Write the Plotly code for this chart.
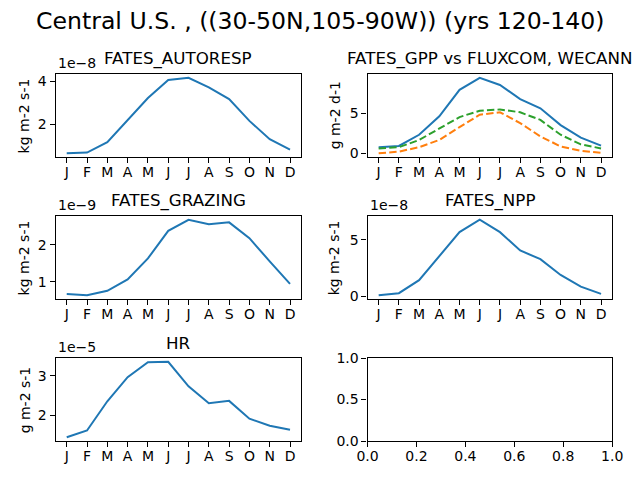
"""Seasonal cycle panels for Central U.S. FATES output."""
import plotly.graph_objects as go

months = ["J", "F", "M", "A", "M", "J", "J", "A", "S", "O", "N", "D"]
month_idx = list(range(12))

# Monthly means.
autoresp = [0.65e-8, 0.68e-8, 1.16e-8, 2.2e-8, 3.21e-8, 4.05e-8,
            4.15e-8, 3.70e-8, 3.16e-8, 2.15e-8, 1.30e-8, 0.82e-8]
gpp_fates = [0.75, 0.91, 2.3, 4.6, 7.9, 9.4, 8.5, 6.75, 5.6, 3.5, 1.95, 0.95]
gpp_fluxcom = [0.0, 0.2, 0.75, 1.65, 3.25, 4.8, 5.1, 3.75, 2.1, 0.85, 0.3, 0.05]
gpp_wecann = [0.6, 0.75, 1.65, 3.1, 4.5, 5.3, 5.45, 5.1, 4.15, 2.3, 1.1, 0.6]
grazing = [0.66e-9, 0.63e-9, 0.75e-9, 1.06e-9, 1.63e-9, 2.38e-9,
           2.68e-9, 2.56e-9, 2.61e-9, 2.18e-9, 1.55e-9, 0.94e-9]
npp = [0.12e-8, 0.3e-8, 1.45e-8, 3.6e-8, 5.68e-8, 6.77e-8,
       5.68e-8, 4.06e-8, 3.3e-8, 1.91e-8, 0.88e-8, 0.24e-8]
hr = [1.44e-5, 1.61e-5, 2.35e-5, 2.96e-5, 3.34e-5, 3.35e-5,
      2.73e-5, 2.30e-5, 2.36e-5, 1.91e-5, 1.73e-5, 1.63e-5]

W, H = 640, 480
PAD = 8  # the page ends up drawing the figure inside an 8px border
FONT = "DejaVu Sans"
BLUE, ORANGE, GREEN = "#1f77b4", "#ff7f0e", "#2ca02c"

# panel boxes in window pixels: (left, right, top, bottom)
cols = [(53, 301), (368, 615)]
rows = [(74, 157), (216, 299), (358, 441)]

# name, series list, scale, units, yticks, ylabel x-position
panels = [
    ("FATES_AUTORESP", [(autoresp, BLUE, "solid")], 1e-8, "kg m-2 s-1", [2, 4], 21),
    ("FATES_GPP vs FLUXCOM, WECANN",
     [(gpp_fates, BLUE, "solid"), (gpp_fluxcom, ORANGE, "7.4px,3.2px"),
      (gpp_wecann, GREEN, "7.4px,3.2px")],
     1, "g m-2 d-1", [0, 5], 335),
    ("FATES_GRAZING", [(grazing, BLUE, "solid")], 1e-9, "kg m-2 s-1", [1, 2], 21),
    ("FATES_NPP", [(npp, BLUE, "solid")], 1e-8, "kg m-2 s-1", [0, 5], 334),
    ("HR", [(hr, BLUE, "solid")], 1e-5, "g m-2 s-1", [2, 3], 22),
]

fig = go.Figure()
annotations = []


def px_x(p):
    return (p - PAD) / (W - 2 * PAD)


def px_y(p):
    return 1 - (p - PAD) / (H - 2 * PAD)


axis_style = dict(showline=True, linecolor="black", linewidth=1.1, mirror=True,
                  ticks="outside", ticklen=5, tickwidth=1.1, tickcolor="black",
                  showgrid=False, zeroline=False,
                  tickfont=dict(family=FONT, size=14, color="black"))

for i in range(6):
    r, c = divmod(i, 2)
    left, right = cols[c]
    top, bottom = rows[r]
    n = i + 1
    xa = "x" if n == 1 else f"x{n}"
    ya = "y" if n == 1 else f"y{n}"
    xkey = "xaxis" if n == 1 else f"xaxis{n}"
    ykey = "yaxis" if n == 1 else f"yaxis{n}"
    xdom = [px_x(left), px_x(right)]
    ydom = [px_y(bottom), px_y(top)]

    if i < len(panels):
        name, series, scale, units, yticks, ylx = panels[i]
        lo, hi = None, None
        for vals, color, dash in series:
            ys = [v / scale for v in vals]
            lo = min(ys) if lo is None else min(lo, min(ys))
            hi = max(ys) if hi is None else max(hi, max(ys))
            fig.add_trace(go.Scatter(x=month_idx, y=ys, mode="lines", xaxis=xa, yaxis=ya,
                                     line=dict(color=color, width=2, dash=dash),
                                     showlegend=False))
        pad = 0.05 * (hi - lo)
        fig.update_layout({
            xkey: dict(domain=xdom, anchor=ya, range=[-0.55, 11.55],
                       tickvals=month_idx, ticktext=months, ticklabelstandoff=-3, **axis_style),
            ykey: dict(domain=ydom, anchor=xa, range=[lo - pad, hi + pad],
                       tickvals=yticks, **axis_style),
        })
        annotations.append(dict(text=name, x=(xdom[0] + xdom[1]) / 2, y=px_y(top - 3),
                                xref="paper", yref="paper", xanchor="center", yanchor="bottom",
                                showarrow=False, font=dict(family=FONT, size=16.7, color="black")))
        if scale != 1:
            exp = f"{scale:.0e}".split("e")[1]
            annotations.append(dict(text=f"1e\u2212{int(exp[1:])}", x=xdom[0], y=px_y(top - 1),
                                    xref="paper", yref="paper", xanchor="left", yanchor="bottom",
                                    showarrow=False, font=dict(family=FONT, size=14, color="black")))
        annotations.append(dict(text=units, x=px_x(ylx), y=(ydom[0] + ydom[1]) / 2,
                                xref="paper", yref="paper", xanchor="center", yanchor="middle",
                                textangle=-90, showarrow=False,
                                font=dict(family=FONT, size=14, color="black")))
    else:
        # unused sixth panel: an empty trace so the axes get drawn
        fig.add_trace(go.Scatter(x=[], y=[], xaxis=xa, yaxis=ya, showlegend=False))
        fig.update_layout({
            xkey: dict(domain=xdom, anchor=ya, range=[0, 1], ticklabelstandoff=-3,
                       tickvals=[0, 0.2, 0.4, 0.6, 0.8, 1.0], tickformat=".1f", **axis_style),
            ykey: dict(domain=ydom, anchor=xa, range=[0, 1],
                       tickvals=[0, 0.5, 1.0], tickformat=".1f", **axis_style),
        })

annotations.append(dict(text="Central U.S. , ((30-50N,105-90W)) (yrs 120-140)",
                        x=0.5, y=px_y(21), xref="paper", yref="paper",
                        xanchor="center", yanchor="middle", showarrow=False,
                        font=dict(family=FONT, size=23.6, color="black")))

fig.update_layout(width=W, height=H, margin=dict(l=0, r=0, t=0, b=0), autosize=False,
                  paper_bgcolor="white", plot_bgcolor="white",
                  annotations=annotations, showlegend=False)

fig.write_html("out.html", config={"displayModeBar": False, "responsive": False},
               post_script="document.body.style.margin='0';document.body.style.overflow='hidden';")
